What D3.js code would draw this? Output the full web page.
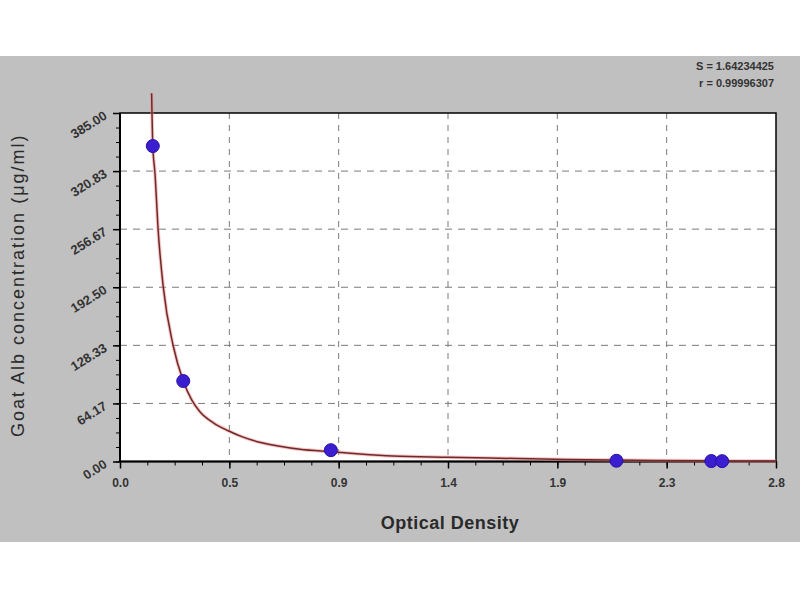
<!DOCTYPE html>
<html>
<head>
<meta charset="utf-8">
<script src="https://cdn.jsdelivr.net/npm/d3@7"></script>
<style>
  body { margin: 0; background: #ffffff; }
  svg { font-family: "Liberation Sans", Arial, sans-serif; }
</style>
</head>
<body>
<svg id="chart" width="800" height="600"></svg>
<script>
// measured standards (OD, concentration)
var odValues = [0.14, 0.27, 0.90, 2.119, 2.524, 2.570];
var concValues = [348.5, 88.9, 12.5, 0.8, 0.5, 0.4];

// fitted curve
var curveX = [0.135, 0.140, 0.149, 0.163, 0.185, 0.227, 0.270, 0.306, 0.341, 0.400, 0.462, 0.520, 0.600, 0.669, 0.768, 0.904, 1.024, 1.165, 1.400, 1.693, 1.900, 2.200, 2.500, 2.800];
var curveY = [406.8, 348.5, 319.5, 255.0, 192.0, 127.9, 88.9, 68.0, 55.0, 42.5, 34.0, 27.5, 21.0, 17.5, 13.6, 10.8, 8.3, 6.0, 4.6, 3.3, 2.3, 1.4, 0.9, 0.5];

var xTicks = [0, 0.4667, 0.9333, 1.4, 1.8667, 2.3333, 2.8];
var xTickLabels = ["0.0", "0.5", "0.9", "1.4", "1.9", "2.3", "2.8"];
var yTicks = [0, 64.17, 128.33, 192.50, 256.67, 320.83, 385.00];
var yTickLabels = ["0.00", "64.17", "128.33", "192.50", "256.67", "320.83", "385.00"];

var statLines = ["S = 1.64234425", "r = 0.99996307"];
var xTitle = "Optical Density";
var yTitle = "Goat  Alb concentration (\u03bcg/ml)";

var draw = function() {
    var svg = d3.select("#chart");
    var pLeft = 120, pRight = 776, pTop = 113, pBottom = 461.5;

    var x = d3.scaleLinear().domain([0, 2.8]).range([pLeft, pRight]);
    var y = d3.scaleLinear().domain([0, 385]).range([pBottom, pTop]);

    // grey panel
    svg.append("rect").attr("x", 0).attr("y", 56).attr("width", 800).attr("height", 486).attr("fill", "#c0c0c0");
    svg.append("rect").attr("x", pLeft).attr("y", pTop).attr("width", pRight - pLeft).attr("height", pBottom - pTop).attr("fill", "#ffffff");

    // grid
    svg.append("g").selectAll("line").data(xTicks.slice(1, -1)).enter().append("line")
	.attr("x1", function(d) { return x(d); }).attr("x2", function(d) { return x(d); })
	.attr("y1", pTop).attr("y2", pBottom)
	.attr("stroke", "#7a7a7a").attr("stroke-dasharray", "6,6");
    svg.append("g").selectAll("line").data(yTicks.slice(1, -1)).enter().append("line")
	.attr("y1", function(d) { return y(d); }).attr("y2", function(d) { return y(d); })
	.attr("x1", pLeft).attr("x2", pRight)
	.attr("stroke", "#7a7a7a").attr("stroke-dasharray", "7,6");

    // minor ticks
    var xMinor = d3.range(0, 25).map(function(i) { return i * 2.8 / 24; });
    var yMinor = d3.range(0, 25).map(function(i) { return i * 385 / 24; });

    svg.append("g").attr("transform", "translate(0," + pBottom + ")")
	.call(d3.axisBottom(x).tickValues(xMinor).tickSize(4).tickFormat(""))
	.call(function(g) { g.select(".domain").remove(); g.selectAll("line").attr("stroke", "#000"); });
    svg.append("g").attr("transform", "translate(0," + pBottom + ")")
	.call(d3.axisBottom(x).tickValues(xTicks).tickSize(7)
	      .tickFormat(function(d, i) { return xTickLabels[i]; }))
	.call(function(g) {
	    g.select(".domain").remove();
	    g.selectAll("line").attr("stroke", "#000").attr("stroke-width", 1.5);
	    g.selectAll("text").attr("font-size", 12).attr("font-weight", "bold").attr("fill", "#333")
		.attr("y", 17)
		.style("font-family", "Liberation Sans, Arial, sans-serif");
	});

    svg.append("g").attr("transform", "translate(" + pLeft + ",0)")
	.call(d3.axisLeft(y).tickValues(yMinor).tickSize(4).tickFormat(""))
	.call(function(g) { g.select(".domain").remove(); g.selectAll("line").attr("stroke", "#000"); });
    svg.append("g").attr("transform", "translate(" + pLeft + ",0)")
	.call(d3.axisLeft(y).tickValues(yTicks).tickSize(7).tickFormat(""))
	.call(function(g) {
	    g.select(".domain").remove();
	    g.selectAll("line").attr("stroke", "#000").attr("stroke-width", 1.5);
	});
    svg.append("g").selectAll("text").data(yTicks).enter().append("text")
	.attr("transform", function(d) { return "translate(" + (pLeft - 12) + "," + (y(d) + 5) + ") rotate(-32)"; })
	.attr("text-anchor", "end")
	.attr("font-size", 13).attr("font-weight", "bold").attr("fill", "#333")
	.text(function(d, i) { return yTickLabels[i]; });

    // frame
    svg.append("rect").attr("x", pLeft).attr("y", pTop).attr("width", pRight - pLeft).attr("height", pBottom - pTop)
	.attr("fill", "none").attr("stroke", "#000").attr("stroke-width", 1.5);
    svg.append("line").attr("x1", pLeft).attr("x2", pRight).attr("y1", pBottom).attr("y2", pBottom)
	.attr("stroke", "#000").attr("stroke-width", 2);
    svg.append("line").attr("x1", pLeft).attr("x2", pLeft).attr("y1", pTop).attr("y2", pBottom)
	.attr("stroke", "#000").attr("stroke-width", 2);

    // fitted curve
    var line = d3.line()
	.x(function(d, i) { return x(curveX[i]); })
	.y(function(d) { return y(d); })
	.curve(d3.curveMonotoneX);
    svg.append("path").datum(curveY).attr("d", line)
	.attr("fill", "none").attr("stroke", "#f08a8a").attr("stroke-width", 3.5).attr("opacity", 0.5);
    svg.append("path").datum(curveY).attr("d", line)
	.attr("fill", "none").attr("stroke", "#6e2a2a").attr("stroke-width", 1.5);

    // points
    svg.append("g").selectAll("circle").data(concValues).enter().append("circle")
	.attr("cx", function(d, i) { return x(odValues[i]); })
	.attr("cy", function(d) { return y(d); })
	.attr("r", 6.5)
	.attr("fill", "#3b1ed0").attr("stroke", "#2a10a8").attr("stroke-width", 1);

    // titles
    svg.append("text").attr("x", (pLeft + pRight) / 2 + 2).attr("y", 529)
	.attr("text-anchor", "middle").attr("font-size", 18).attr("font-weight", "bold").attr("fill", "#2a2a2a")
	.attr("letter-spacing", 0.5)
	.text(xTitle);
    svg.append("text").attr("transform", "translate(24," + ((pTop + pBottom) / 2 - 2) + ") rotate(-90)")
	.attr("text-anchor", "middle").attr("font-size", 18).attr("fill", "#2a2a2a")
	.attr("letter-spacing", 2)
	.text(yTitle);

    svg.append("g").selectAll("text").data(statLines).enter().append("text")
	.attr("x", 774).attr("y", function(d, i) { return 70 + i * 17; })
	.attr("text-anchor", "end").attr("font-size", 11).attr("font-weight", "bold").attr("fill", "#333")
	.text(function(d) { return d; });
};

draw();
</script>
</body>
</html>
